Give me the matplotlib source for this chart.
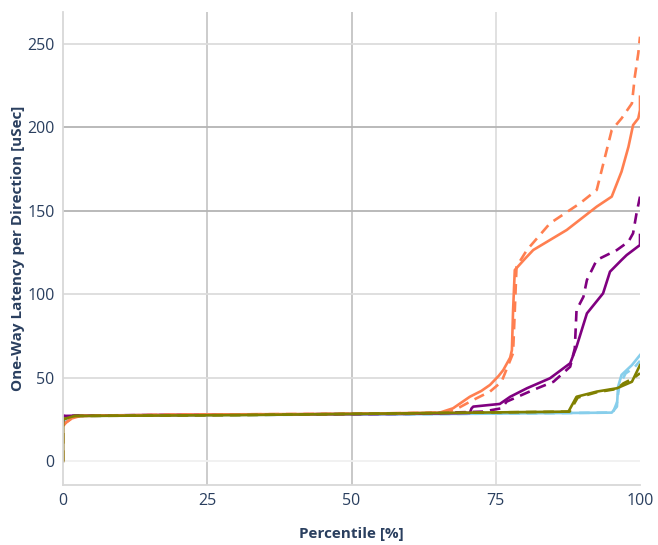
import matplotlib
matplotlib.use("Agg")
import matplotlib.pyplot as plt

plt.rcParams['font.family'] = ['Open Sans', 'DejaVu Sans']

# ---- data (percentile %, latency uSec) ----
coral_solid_x = [0, 0, 0.5, 1.5, 3, 20, 50, 65.3, 67.6, 70.5, 72.5, 74.0, 75.5, 76.3, 77.5, 77.8, 78.0, 78.3, 80, 81.5, 87.3, 92.5, 95.1, 96.8, 98.0, 98.8, 99.7, 100, 100]
coral_solid_y = [0, 21, 23, 25.5, 27, 27.8, 28.3, 29, 31.6, 38.5, 42, 45.6, 51, 54.5, 62, 66.5, 90, 114.5, 121, 126.5, 138.5, 152.5, 158.5, 173.5, 188.4, 201.4, 205.4, 210.4, 218.4]

coral_dash_x = [0, 0, 0.5, 1.5, 3, 20, 50, 66, 67.9, 71.1, 74, 76, 78.0, 78.3, 78.6, 80.4, 84.4, 89.6, 92.5, 95.1, 96.8, 98.6, 99.1, 99.7, 100]
coral_dash_y = [0, 21, 23, 25.5, 27, 27.8, 28.3, 29, 30.6, 36.6, 41.6, 47.5, 64.6, 90, 116.5, 126.5, 142.5, 154.5, 162.5, 198.4, 205.4, 214.4, 230.4, 244.4, 254.4]

purple_solid_x = [0, 0, 5, 30, 60, 70.5, 70.8, 71.1, 75.7, 77.5, 80.4, 84.4, 87.9, 89.0, 90.8, 93.6, 94.8, 96.8, 97.7, 100, 100]
purple_solid_y = [22, 27, 27.3, 27.8, 28.3, 28.8, 31.5, 32.6, 34.2, 38.5, 43.6, 49.6, 58.6, 68.5, 88.5, 100.5, 113.5, 120.5, 123.5, 129.5, 135.5]

purple_dash_x = [0, 0, 5, 30, 60, 72.8, 76.0, 76.9, 81.5, 85.0, 87.9, 88.7, 89.0, 90.2, 90.8, 92.5, 96, 98, 98.8, 99.4, 100]
purple_dash_y = [22, 27, 27.3, 27.8, 28.3, 29.6, 31.6, 35.6, 42.6, 47.5, 56.5, 67.6, 90.5, 98.5, 108.5, 120.5, 126.5, 131.5, 136.5, 148.5, 158.5]

blue_solid_x = [0, 0, 1, 2, 20, 60, 95.1, 96.0, 96.2, 96.8, 98.6, 100]
blue_solid_y = [0, 24, 26, 27, 27.5, 28, 29, 32.6, 44.5, 51.6, 57.5, 63.5]

blue_dash_x = [0, 0, 1, 2, 20, 60, 95.3, 96.0, 96.4, 97.5, 99.0, 100]
blue_dash_y = [0, 24, 26, 27, 27.5, 28, 29, 35, 45, 52.5, 56, 60]

olive_solid_x = [0, 0, 2, 30, 87.6, 89, 92.5, 96, 98.6, 100]
olive_solid_y = [0, 25, 27, 27.5, 29.6, 38.5, 41.6, 43.6, 47.5, 57.5]

olive_dash_x = [0, 0, 2, 30, 87.8, 89.2, 92.5, 96, 97.1, 98.8, 100]
olive_dash_y = [0, 25, 27, 27.5, 29.6, 38.0, 41.2, 43.2, 46.5, 49.5, 52.6]

x_ticks = [0, 25, 50, 75, 100]
y_ticks = [0, 50, 100, 150, 200, 250]

CORAL = '#FF7F50'
PURPLE = '#800080'
BLUE = '#87CEEB'
OLIVE = '#808000'
TXT = '#2a3f5f'

fig = plt.figure(figsize=(6.58, 5.45), dpi=100)
ax = fig.add_axes([63/658, 1-485/545, (640-63)/658, (485-12)/545])
ax.set_xlim(0, 100)
ax.set_ylim(-14.4, 269.2)

# grid (some lines darker as in reference)
for v, c in [(25, '#c8c8c8'), (50, '#c4c4c4'), (75, '#dedede')]:
    ax.axvline(v, color=c, lw=1.3, zorder=0)
for v, c in [(50, '#dcdcdc'), (100, '#dcdcdc'), (150, '#b4b4b4'), (200, '#b4b4b4'), (250, '#dcdcdc')]:
    ax.axhline(v, color=c, lw=1.3, zorder=0)
ax.axhline(0, color='#f0f0f0', lw=1.3, zorder=0)

lw = 1.9
dash = (4, 2.6)
ax.plot(blue_solid_x, blue_solid_y, color=BLUE, lw=lw)
ax.plot(blue_dash_x, blue_dash_y, color=BLUE, lw=lw, linestyle=(0, dash))
ax.plot(purple_solid_x, purple_solid_y, color=PURPLE, lw=lw)
ax.plot(purple_dash_x, purple_dash_y, color=PURPLE, lw=lw, linestyle=(0, dash))
ax.plot(coral_solid_x, coral_solid_y, color=CORAL, lw=lw)
ax.plot(coral_dash_x, coral_dash_y, color=CORAL, lw=lw, linestyle=(0, dash))
ax.plot(olive_solid_x, olive_solid_y, color=OLIVE, lw=lw)
ax.plot(olive_dash_x, olive_dash_y, color=OLIVE, lw=lw, linestyle=(0, dash))

for s in ['top', 'right']:
    ax.spines[s].set_visible(False)
for s in ['left', 'bottom']:
    ax.spines[s].set_color('#d8d8d8')
    ax.spines[s].set_linewidth(1.3)

ax.set_xticks(x_ticks)
ax.set_yticks(y_ticks)
ax.set_xticklabels([str(t) for t in x_ticks])
ax.set_yticklabels([str(t) for t in y_ticks])
ax.tick_params(axis='both', length=0, labelsize=11.5, labelcolor=TXT)
ax.tick_params(axis='x', pad=6)
ax.tick_params(axis='y', pad=6)

ax.set_xlabel('Percentile [%]', fontsize=11, fontweight='bold', color=TXT)
ax.xaxis.set_label_coords(0.5, -(527 - 485) / 473)
ax.set_ylabel('One-Way Latency per Direction [uSec]', fontsize=11, fontweight='bold', color=TXT)
ax.yaxis.set_label_coords((25 - 63) / 577, 0.5)

fig.savefig('out.png', dpi=100)
